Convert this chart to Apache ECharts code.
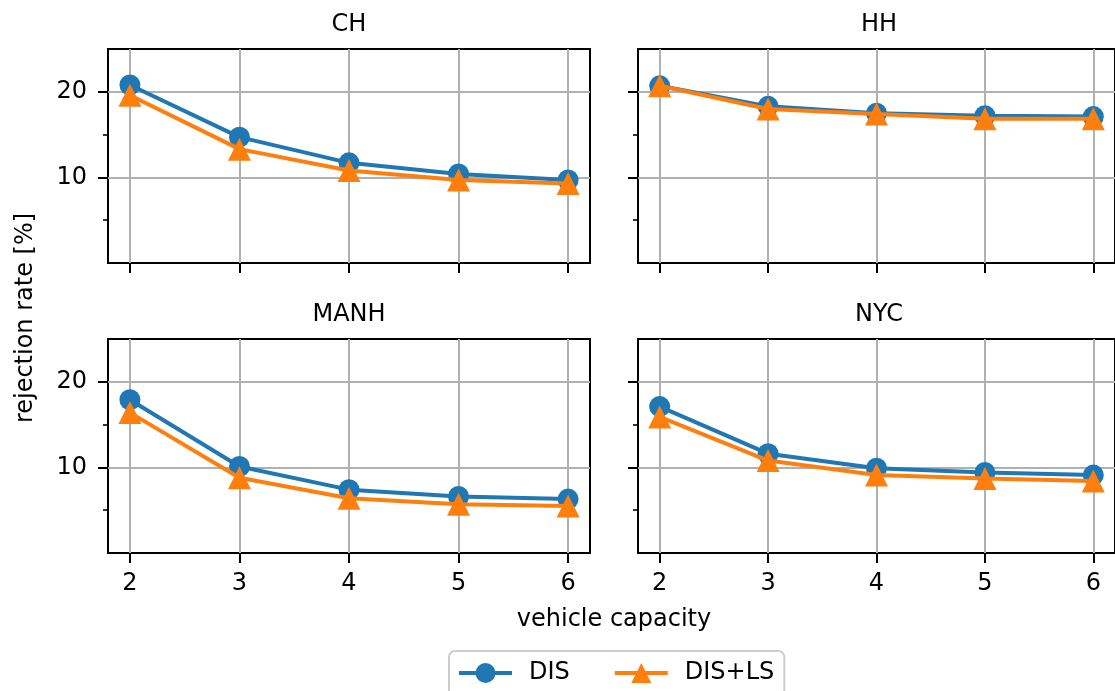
<!DOCTYPE html>
<html>
<head>
<meta charset="utf-8">
<script src="https://cdn.jsdelivr.net/npm/echarts@6/dist/echarts.min.js"></script>
<style>
html,body{margin:0;padding:0;background:#fff;}
#main{width:1115px;height:691px;}
</style>
</head>
<body>
<div id="main"></div>
<script>
// ---- data ----
const capacities = [2, 3, 4, 5, 6];
const panels = ['CH', 'HH', 'MANH', 'NYC'];
const seriesNames = ['DIS', 'DIS+LS'];
const chDIS    = [20.8, 14.7, 11.7, 10.4, 9.7];
const chDISLS  = [19.6, 13.3, 10.8, 9.7, 9.3];
const hhDIS    = [20.7, 18.3, 17.5, 17.2, 17.1];
const hhDISLS  = [20.7, 18.0, 17.4, 16.85, 16.85];
const manhDIS  = [17.9, 10.1, 7.4, 6.6, 6.3];
const manhDISLS= [16.4, 8.8, 6.4, 5.7, 5.5];
const nycDIS   = [17.1, 11.6, 9.9, 9.4, 9.1];
const nycDISLS = [15.9, 10.8, 9.1, 8.7, 8.4];
const yMajorTicks = [10, 20];
const yMinorTicks = [5, 15];
const xLabel = 'vehicle capacity';
const yLabel = 'rejection rate [%]';

const panelData = [[chDIS, chDISLS], [hhDIS, hhDISLS], [manhDIS, manhDISLS], [nycDIS, nycDISLS]];

// ---- layout ----
const FONT = 'DejaVu Sans';
const FS = 24;
const gridPos = [
  {left: 108, top: 49},
  {left: 638, top: 49},
  {left: 108, top: 339},
  {left: 638, top: 339}
];
const GW = 482, GH = 214;
const colors = ['#1f77b4', '#ff7f0e'];
const symbols = ['circle', 'triangle'];
const symbolSizes = [21, 23];

const grids = [], xAxes = [], yAxes = [], series = [], graphics = [];
gridPos.forEach((g, i) => {
  grids.push({left: g.left, top: g.top, width: GW, height: GH, show: true,
    borderColor: '#000', borderWidth: 2, backgroundColor: 'transparent', containLabel: false});
  const bottomRow = i >= 2, leftCol = i % 2 === 0;
  xAxes.push({
    type: 'value', gridIndex: i, min: 1.8, max: 6.2,
    axisLine: {show: false},
    axisTick: {show: true, customValues: capacities, length: 10, inside: false,
      lineStyle: {color: '#000', width: 2}},
    axisLabel: {show: bottomRow, customValues: capacities, margin: 19, color: '#000',
      fontFamily: FONT, fontSize: FS},
    splitLine: {show: true, lineStyle: {color: '#b0b0b0', width: 2}}
  });
  yAxes.push({
    type: 'value', gridIndex: i, min: 0, max: 25, position: 'left',
    axisLine: {show: false},
    axisTick: {show: true, customValues: yMajorTicks, length: 10, inside: false,
      lineStyle: {color: '#000', width: 2}},
    axisLabel: {show: leftCol, customValues: yMajorTicks, margin: 21, color: '#000',
      fontFamily: FONT, fontSize: FS},
    splitLine: {show: true, lineStyle: {color: '#b0b0b0', width: 2}}
  });
  yAxes.push({
    type: 'value', gridIndex: i, min: 0, max: 25, position: 'left', offset: 0,
    axisLine: {show: false},
    axisTick: {show: true, customValues: yMinorTicks, length: 5, inside: false,
      lineStyle: {color: '#000', width: 1.6}},
    axisLabel: {show: false},
    splitLine: {show: false}
  });
  panelData[i].forEach((vals, k) => {
    series.push({
      type: 'line', name: seriesNames[k], xAxisIndex: i, yAxisIndex: 2 * i,
      data: capacities.map((c, j) => [c, vals[j]]),
      symbol: symbols[k], symbolSize: symbolSizes[k],
      lineStyle: {color: colors[k], width: 4},
      itemStyle: {color: colors[k]},
      z: 3 + k, animation: false, clip: false
    });
  });
  graphics.push({type: 'text', z: 10, style: {text: panels[i], x: g.left + GW / 2,
    y: g.top - 24, textAlign: 'center', textVerticalAlign: 'middle',
    font: FS + 'px "' + FONT + '"', fill: '#000'}});
});
graphics.push({type: 'text', z: 10, style: {text: xLabel, x: 614, y: 620,
  textAlign: 'center', textVerticalAlign: 'middle', font: FS + 'px "' + FONT + '"', fill: '#000'}});
graphics.push({type: 'text', z: 10, x: 26, y: 318, rotation: Math.PI / 2,
  style: {text: yLabel, x: 0, y: 0, textAlign: 'center', textVerticalAlign: 'middle',
  font: FS + 'px "' + FONT + '"', fill: '#000'}});

const chart = echarts.init(document.getElementById('main'), null, {renderer: 'canvas'});
chart.setOption({
  animation: false,
  backgroundColor: '#fff',
  grid: grids,
  xAxis: xAxes,
  yAxis: yAxes,
  series: series,
  graphic: graphics,
  legend: {
    data: seriesNames, left: 449, top: 651,
    padding: [10, 10, 20, 8],
    borderColor: '#cccccc', borderWidth: 2, borderRadius: 6, backgroundColor: '#fff',
    itemWidth: 53, itemHeight: 25, itemGap: 43,
    lineStyle: {width: 4},
    textStyle: {fontFamily: FONT, fontSize: FS, color: '#000', padding: [0, 0, 0, 12]}
  }
});
</script>
</body>
</html>
